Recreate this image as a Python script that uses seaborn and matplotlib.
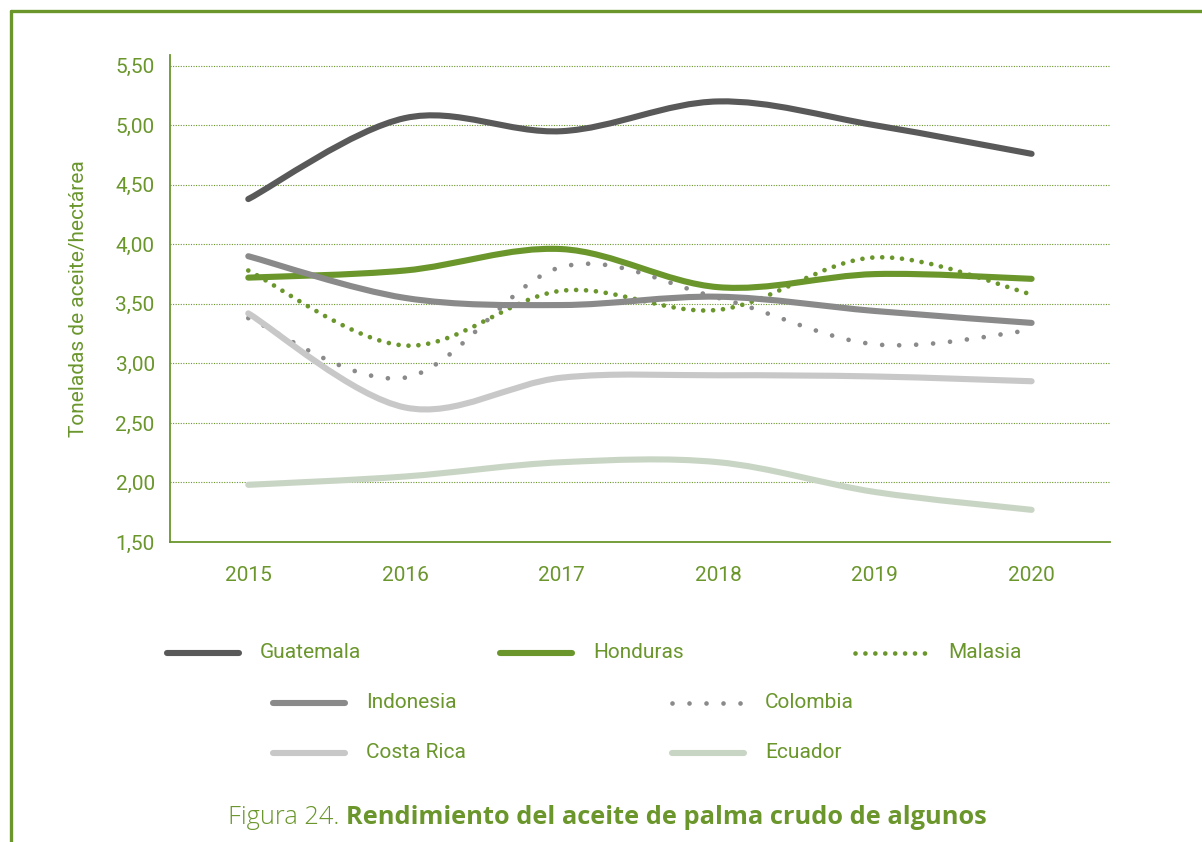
import numpy as np
import pandas as pd
import seaborn as sns
import matplotlib
matplotlib.use("Agg")
from matplotlib import pyplot as plt
from matplotlib.path import Path
from matplotlib.patches import PathPatch
from matplotlib.lines import Line2D

# data
years = [2015, 2016, 2017, 2018, 2019, 2020]
guatemala = [4.38, 5.06, 4.95, 5.20, 5.00, 4.76]
honduras = [3.72, 3.78, 3.96, 3.64, 3.75, 3.71]
malasia = [3.78, 3.15, 3.61, 3.45, 3.89, 3.58]
indonesia = [3.90, 3.55, 3.49, 3.56, 3.44, 3.34]
colombia = [3.38, 2.88, 3.81, 3.55, 3.16, 3.28]
costa_rica = [3.42, 2.63, 2.88, 2.90, 2.89, 2.85]
ecuador = [1.98, 2.05, 2.17, 2.17, 1.92, 1.77]

y_ticks = [1.5, 2.0, 2.5, 3.0, 3.5, 4.0, 4.5, 5.0, 5.5]

GREEN = "#6a962c"
TEXT_FONT = ["Roboto", "DejaVu Sans"]
CAPTION_FONT = ["Open Sans", "DejaVu Sans"]

series = [
    ("Guatemala", guatemala, "#595959", "solid"),
    ("Honduras", honduras, "#6a962c", "solid"),
    ("Malasia", malasia, "#6a962c", "dots_fine"),
    ("Indonesia", indonesia, "#8a8a8a", "solid"),
    ("Colombia", colombia, "#8a8a8a", "dots_wide"),
    ("Costa Rica", costa_rica, "#c8c8c8", "solid"),
    ("Ecuador", ecuador, "#c9d5c4", "solid"),
]

styles = {
    "solid": dict(linewidth=4.4, linestyle="-"),
    "dots_fine": dict(linewidth=3.4, linestyle=(0, (0.001, 2.1))),
    "dots_wide": dict(linewidth=3.4, linestyle=(0, (0.001, 3.6))),
}


def smooth_path(xs, ys):
    # Excel-like smoothed line: Catmull-Rom segments as cubic Bezier curves
    pts = np.column_stack([xs, ys]).astype(float)
    ext = np.vstack([pts[0], pts, pts[-1]])
    verts = [pts[0]]
    codes = [Path.MOVETO]
    for i in range(1, len(ext) - 2):
        p0, p1, p2, p3 = ext[i - 1], ext[i], ext[i + 1], ext[i + 2]
        verts += [p1 + (p2 - p0) / 6, p2 - (p3 - p1) / 6, p2]
        codes += [Path.CURVE4] * 3
    return Path(verts, codes)


sns.set_theme(style="white")
plt.rcParams["font.family"] = TEXT_FONT

fig = plt.figure(figsize=(12.02, 8.42), dpi=100)
ax = fig.add_axes([0.1414, 0.3563, 0.782, 0.5784])

df = pd.DataFrame({"year": years})
for name, vals, color, kind in series:
    df[name] = vals
    patch = PathPatch(smooth_path(df["year"], df[name]), fill=False,
                      edgecolor=color, capstyle="round", joinstyle="round",
                      transform=ax.transData, **styles[kind])
    ax.add_patch(patch)

ax.set_xlim(2014.5, 2020.5)
ax.set_ylim(1.5, 5.59)
ax.set_xticks(years)
ax.set_xticklabels([str(y) for y in years])
ax.set_yticks(y_ticks)
ax.set_yticklabels([f"{v:.2f}".replace(".", ",") for v in y_ticks])
ax.tick_params(axis="both", length=0, labelsize=15, labelcolor=GREEN)
ax.tick_params(axis="y", pad=11)
ax.tick_params(axis="x", pad=17)
for t in y_ticks[1:]:
    ax.axhline(t, color=GREEN, linewidth=0.8, linestyle=(0, (1, 1.3)), zorder=0)
sns.despine(ax=ax)
for side in ["left", "bottom"]:
    ax.spines[side].set_color(GREEN)
    ax.spines[side].set_linewidth(1.3)
ax.set_ylabel("Toneladas de aceite/hectárea", color=GREEN, fontsize=15, labelpad=20)
ax.set_facecolor("white")

# legend laid out like the report: three rows
W, H = 1202.0, 842.0
legend_slots = {
    "Guatemala": (167, 653),
    "Honduras": (500, 653),
    "Malasia": (855, 653),
    "Indonesia": (273, 703),
    "Colombia": (672, 703),
    "Costa Rica": (273, 753),
    "Ecuador": (672, 753),
}
for name, vals, color, kind in series:
    x0, y0 = legend_slots[name]
    fig.add_artist(Line2D([x0 / W, (x0 + 72) / W], [1 - y0 / H, 1 - y0 / H],
                          color=color, solid_capstyle="round",
                          dash_capstyle="round", **styles[kind]))
    fig.text((x0 + 93) / W, 1 - y0 / H, name, color=GREEN, fontsize=15,
             va="center", ha="left")

# outer frame of the report page
fig.add_artist(Line2D([11 / W, 1], [1 - 11 / H, 1 - 11 / H], color=GREEN, linewidth=2.4))
fig.add_artist(Line2D([11 / W, 11 / W], [0, 1 - 11 / H], color=GREEN, linewidth=2.4))

# caption
cap = fig.text(228 / W, 1 - 817 / H, "Figura 24. ", color=GREEN, fontsize=18.3,
               family=CAPTION_FONT, fontweight="light", va="center")
ax.annotate("Rendimiento del aceite de palma crudo de algunos",
            xy=(1, 0.5), xycoords=cap, va="center", ha="left",
            color=GREEN, fontsize=18.3, family=CAPTION_FONT,
            fontweight="bold")

fig.savefig("out.png", dpi=100, facecolor="white")
